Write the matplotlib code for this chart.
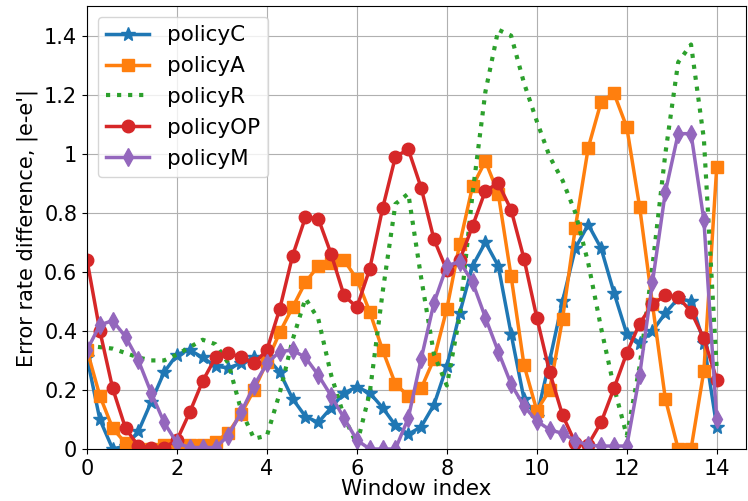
import numpy as np
import matplotlib
matplotlib.use("Agg")
import matplotlib.pyplot as plt
from matplotlib.ticker import FuncFormatter

# 50 windows, evenly spaced from 0 to 14
window = np.linspace(0, 14, 50)

policyC = [0.31, 0.10, 0.0, 0.01, 0.06, 0.16, 0.26, 0.32, 0.335, 0.31,
           0.28, 0.275, 0.29, 0.31, 0.31, 0.26, 0.17, 0.11, 0.09, 0.14,
           0.19, 0.21, 0.19, 0.14, 0.08, 0.05, 0.075, 0.15, 0.28, 0.46,
           0.62, 0.70, 0.62, 0.39, 0.17, 0.11, 0.30, 0.50, 0.68, 0.76,
           0.68, 0.53, 0.39, 0.36, 0.40, 0.46, 0.51, 0.50, 0.36, 0.075]

policyA = [0.335, 0.18, 0.07, 0.02, 0.0, 0.0, 0.015, 0.01, 0.015, 0.015,
           0.025, 0.055, 0.12, 0.2, 0.295, 0.395, 0.48, 0.565, 0.62, 0.63,
           0.64, 0.575, 0.465, 0.335, 0.22, 0.18, 0.205, 0.305, 0.475, 0.695,
           0.89, 0.975, 0.865, 0.585, 0.285, 0.13, 0.2, 0.44, 0.75, 1.02,
           1.175, 1.205, 1.09, 0.82, 0.49, 0.17, 0.0, 0.0, 0.265, 0.955]

policyR = [0.35, 0.345, 0.34, 0.325, 0.31, 0.30, 0.30, 0.32, 0.345, 0.37,
           0.355, 0.29, 0.13, 0.035, 0.045, 0.19, 0.37, 0.51, 0.44, 0.25,
           0.11, 0.015, 0.19, 0.53, 0.83, 0.865, 0.58, 0.32, 0.215, 0.45,
           0.865, 1.21, 1.42, 1.40, 1.24, 1.11, 0.99, 0.91, 0.80, 0.63,
           0.41, 0.21, 0.045, 0.28, 0.62, 1.0, 1.31, 1.37, 1.05, 0.27]

policyOP = [0.64, 0.40, 0.205, 0.07, 0.01, 0.005, 0.005, 0.03, 0.125, 0.23,
            0.31, 0.325, 0.31, 0.29, 0.335, 0.475, 0.655, 0.785, 0.78, 0.66,
            0.52, 0.48, 0.61, 0.815, 0.99, 1.015, 0.885, 0.71, 0.605, 0.64,
            0.755, 0.875, 0.90, 0.81, 0.645, 0.445, 0.26, 0.115, 0.02, 0.015,
            0.09, 0.205, 0.325, 0.425, 0.49, 0.52, 0.515, 0.465, 0.375, 0.235]

policyM = [0.335, 0.42, 0.435, 0.38, 0.30, 0.19, 0.09, 0.02, 0.005, 0.005,
           0.005, 0.045, 0.125, 0.215, 0.29, 0.33, 0.335, 0.31, 0.25, 0.18,
           0.105, 0.03, 0.0, 0.0, 0.0, 0.105, 0.305, 0.495, 0.62, 0.635,
           0.565, 0.445, 0.33, 0.22, 0.145, 0.095, 0.065, 0.053, 0.028, 0.013,
           0.01, 0.01, 0.01, 0.25, 0.565, 0.87, 1.068, 1.068, 0.775, 0.10]

plt.rcParams['font.size'] = 15

fig = plt.figure(figsize=(7.48, 5.01), dpi=100)
ax = fig.add_axes([0.1163, 0.1038, 0.881, 0.884])

ax.plot(window, policyC, color='tab:blue', marker='*', markersize=10, linewidth=2.5, label='policyC')
ax.plot(window, policyA, color='tab:orange', marker='s', markersize=9, linewidth=2.5, label='policyA')
ax.plot(window, policyR, color='tab:green', linestyle=':', linewidth=3, label='policyR')
ax.plot(window, policyOP, color='tab:red', marker='o', markersize=9, linewidth=2.5, label='policyOP')
ax.plot(window, policyM, color='tab:purple', marker='d', markersize=9, linewidth=2.5, label='policyM')

ax.set_xlim(0, 14.65)
ax.set_ylim(0, 1.5)
ax.set_xticks([0, 2, 4, 6, 8, 10, 12, 14])
ax.set_yticks([0, 0.2, 0.4, 0.6, 0.8, 1.0, 1.2, 1.4])
ax.yaxis.set_major_formatter(FuncFormatter(lambda v, p: '%g' % round(v, 1)))
ax.set_xlabel('Window index', fontsize=15.5, labelpad=0)
ax.set_ylabel("Error rate difference, |e-e'|", fontsize=15)
ax.grid(True)
ax.legend(loc='upper left', fontsize=15.5, handlelength=2.0)

fig.savefig('out.png', dpi=100)
